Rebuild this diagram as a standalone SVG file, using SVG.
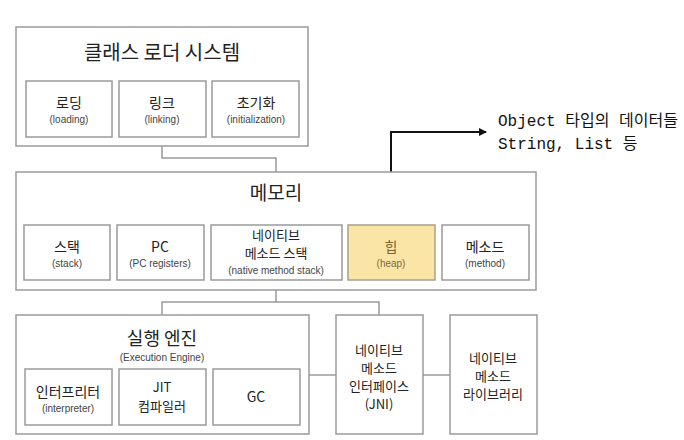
<svg xmlns="http://www.w3.org/2000/svg" width="684" height="440" viewBox="0 0 684 440">
<defs>
<style>
.box{fill:#fff;stroke:#9a9a9a;stroke-width:1.5}
.heap{fill:#fbe5a6;stroke:#a8a08a;stroke-width:1.5}
.t{font-family:"Noto Sans CJK KR","Liberation Sans",sans-serif;fill:#222;text-anchor:middle}
.title{font-size:19px}
.lbl{font-size:14px}
.ml{font-size:13px}
.sm{font-family:"Liberation Sans","Noto Sans CJK KR",sans-serif;font-size:10px;fill:#444;text-anchor:middle}
.conn{fill:none;stroke:#9a9a9a;stroke-width:1.5}
.note{font-family:"Liberation Mono","DejaVu Sans Mono","Noto Sans CJK KR",monospace;font-size:16px;fill:#111}
</style>
<marker id="arr" markerWidth="8" markerHeight="8" refX="7" refY="4" orient="auto" markerUnits="userSpaceOnUse">
<path d="M0,0 L8,4 L0,8 Z" fill="#111"/>
</marker>
</defs>
<rect width="684" height="440" fill="#fff"/>

<g id="connectors">
<path class="conn" d="M162,146 V158 H276 V172"/>
<path class="conn" d="M276,290 V302 M162,315 V302 H379 V315"/>
<path class="conn" d="M309,375 H336 M423,375 H450"/>
<path d="M391,225 V132 H486" fill="none" stroke="#111" stroke-width="2" marker-end="url(#arr)"/>
</g>

<g id="class-loader">
<rect class="box" x="16" y="27" width="292" height="119"/>
<text class="t title" x="162" y="60" style="font-size:20px">클래스 로더 시스템</text>
</g>
<g id="loading">
<rect class="box" x="26" y="81" width="86" height="56"/>
<text class="t lbl" x="69" y="108">로딩</text>
<text class="sm" x="69" y="123">(loading)</text>
</g>
<g id="linking">
<rect class="box" x="119" y="81" width="87" height="56"/>
<text class="t lbl" x="162" y="108">링크</text>
<text class="sm" x="162" y="123">(linking)</text>
</g>
<g id="init">
<rect class="box" x="212" y="81" width="87" height="56"/>
<text class="t lbl" x="256" y="108">초기화</text>
<text class="sm" x="256" y="123">(initialization)</text>
</g>

<g id="memory">
<rect class="box" x="16" y="172" width="520" height="118"/>
<text class="t title" x="276" y="200">메모리</text>
</g>
<g id="stack">
<rect class="box" x="24" y="225" width="86" height="55"/>
<text class="t lbl" x="67" y="252">스택</text>
<text class="sm" x="67" y="267">(stack)</text>
</g>
<g id="pc">
<rect class="box" x="117" y="225" width="87" height="55"/>
<text class="t lbl" x="160" y="252">PC</text>
<text class="sm" x="160" y="267">(PC registers)</text>
</g>
<g id="native-stack">
<rect class="box" x="211" y="225" width="131" height="55"/>
<text class="t ml" x="276" y="240">네이티브</text>
<text class="t ml" x="276" y="258">메소드 스택</text>
<text class="sm" x="276" y="274">(native method stack)</text>
</g>
<g id="heap">
<rect class="heap" x="348" y="225" width="87" height="55"/>
<text class="t lbl" x="391" y="252" style="fill:#7a6530">힙</text>
<text class="sm" x="391" y="267" style="fill:#7a6a40">(heap)</text>
</g>
<g id="method">
<rect class="box" x="442" y="225" width="87" height="55"/>
<text class="t lbl" x="485" y="252">메소드</text>
<text class="sm" x="485" y="267">(method)</text>
</g>

<g id="note">
<text class="note" x="498" y="126">Object 타입의 데이터들</text>
<text class="note" x="498" y="149">String, List 등</text>
</g>

<g id="exec-engine">
<rect class="box" x="16" y="315" width="293" height="119"/>
<text class="t title" x="162" y="345" style="font-size:18px">실행 엔진</text>
<text class="sm" x="162" y="361">(Execution Engine)</text>
</g>
<g id="interpreter">
<rect class="box" x="25" y="369" width="87" height="56"/>
<text class="t lbl" x="68" y="397">인터프리터</text>
<text class="sm" x="68" y="412">(interpreter)</text>
</g>
<g id="jit">
<rect class="box" x="119" y="369" width="87" height="56"/>
<text class="t ml" x="162" y="392">JIT</text>
<text class="t ml" x="162" y="411">컴파일러</text>
</g>
<g id="gc">
<rect class="box" x="213" y="369" width="87" height="56"/>
<text class="t lbl" x="256" y="402">GC</text>
</g>

<g id="jni">
<rect class="box" x="336" y="315" width="87" height="119"/>
<text class="t ml" x="379" y="355">네이티브</text>
<text class="t ml" x="379" y="373">메소드</text>
<text class="t ml" x="379" y="391">인터페이스</text>
<text class="t ml" x="379" y="409">(JNI)</text>
</g>
<g id="native-lib">
<rect class="box" x="450" y="315" width="87" height="119"/>
<text class="t ml" x="493" y="363">네이티브</text>
<text class="t ml" x="493" y="381">메소드</text>
<text class="t ml" x="493" y="399">라이브러리</text>
</g>
</svg>
